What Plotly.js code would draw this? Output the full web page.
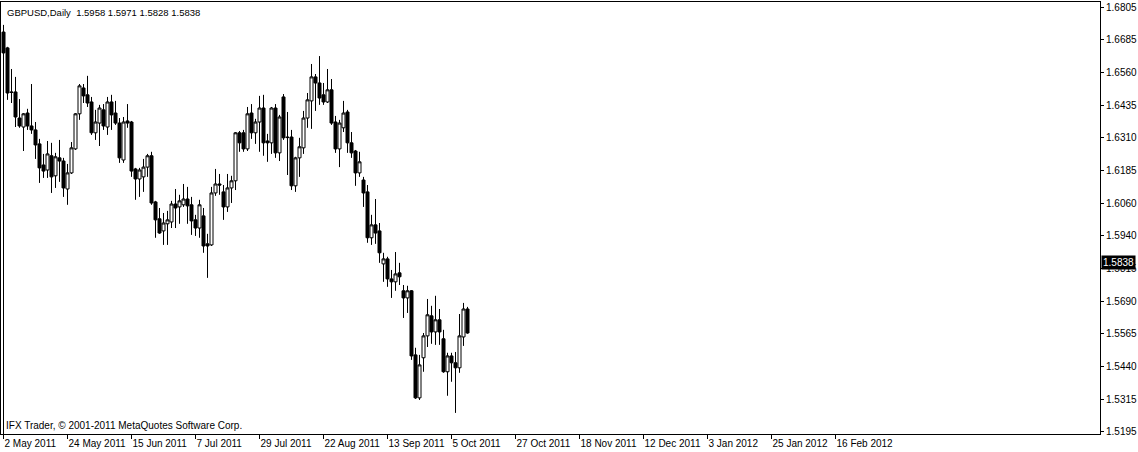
<!DOCTYPE html>
<html><head><meta charset="utf-8">
<script src="https://cdn.plot.ly/plotly-3.0.1.min.js"></script>
<style>html,body{margin:0;padding:0;background:#fff}#chart{width:1138px;height:452px}</style>
</head><body><div id="chart"></div>
<script>
const symbol = "GBPUSD,Daily";
const lastBar = [1.5958, 1.5971, 1.5828, 1.5838];
const copyright = "IFX Trader, \u00a9 2001-2011 MetaQuotes Software Corp.";

const open = [1.6711,1.6651,1.6484,1.6484,1.6385,1.6351,1.6404,1.6355,1.6340,1.6287,
1.6207,1.6188,1.6242,1.6166,1.6234,1.6222,1.6116,1.6177,1.6268,1.6401,
1.6499,1.6473,1.6446,1.6329,1.6366,1.6416,1.6351,1.6446,1.6404,1.6366,
1.6226,1.6374,1.6370,1.6192,1.6154,1.6162,1.6199,1.6242,1.6067,1.6003,
1.5957,1.5984,1.5991,1.6059,1.6048,1.6056,1.6078,1.6056,1.5999,1.5968,
1.6014,1.5908,1.5904,1.6101,1.6135,1.6105,1.6048,1.6120,1.6147,1.6329,
1.6329,1.6268,1.6404,1.6329,1.6370,1.6423,1.6298,1.6291,1.6423,1.6253,
1.6465,1.6313,1.6313,1.6128,1.6234,1.6272,1.6385,1.6450,1.6541,1.6518,
1.6473,1.6446,1.6492,1.6370,1.6268,1.6348,1.6408,1.6291,1.6260,1.6177,
1.6150,1.6105,1.5931,1.5980,1.5957,1.5832,1.5851,1.5775,1.5764,1.5798,
1.5730,1.5703,1.5730,1.5487,1.5324,1.5476,1.5559,1.5635,1.5574,1.5620,
1.5548,1.5423,1.5483,1.5457,1.5438,1.5555,1.5661];

const high = [1.6738,1.6655,1.6571,1.6541,1.6457,1.6404,1.6420,1.6514,1.6370,1.6306,
1.6249,1.6298,1.6291,1.6253,1.6302,1.6234,1.6211,1.6294,1.6404,1.6514,
1.6514,1.6545,1.6465,1.6416,1.6435,1.6438,1.6465,1.6473,1.6450,1.6385,
1.6389,1.6438,1.6374,1.6196,1.6196,1.6230,1.6249,1.6257,1.6071,1.6044,
1.6025,1.6033,1.6071,1.6116,1.6094,1.6135,1.6124,1.6086,1.6018,1.6075,
1.6044,1.5946,1.6124,1.6192,1.6173,1.6131,1.6173,1.6166,1.6332,1.6336,
1.6340,1.6427,1.6438,1.6382,1.6469,1.6473,1.6325,1.6427,1.6438,1.6397,
1.6476,1.6408,1.6340,1.6238,1.6310,1.6412,1.6480,1.6590,1.6552,1.6620,
1.6518,1.6571,1.6533,1.6393,1.6378,1.6450,1.6416,1.6332,1.6264,1.6257,
1.6162,1.6131,1.6018,1.6078,1.5987,1.5874,1.5859,1.5809,1.5877,1.5836,
1.5752,1.5749,1.5733,1.5514,1.5487,1.5570,1.5699,1.5673,1.5711,1.5661,
1.5582,1.5495,1.5495,1.5498,1.5642,1.5684,1.5669];

const low = [1.6613,1.6454,1.6442,1.6351,1.6348,1.6260,1.6340,1.6325,1.6230,1.6139,
1.6158,1.6158,1.6101,1.6120,1.6143,1.6086,1.6056,1.6173,1.6264,1.6378,
1.6442,1.6427,1.6321,1.6302,1.6279,1.6340,1.6321,1.6340,1.6359,1.6215,
1.6215,1.6348,1.6162,1.6075,1.6086,1.6105,1.6162,1.6056,1.5931,1.5946,
1.5904,1.5904,1.5968,1.5968,1.5984,1.6048,1.5984,1.5942,1.5938,1.5931,
1.5874,1.5779,1.5900,1.6090,1.6094,1.5999,1.6029,1.6063,1.6112,1.6257,
1.6257,1.6260,1.6306,1.6287,1.6257,1.6242,1.6219,1.6249,1.6234,1.6222,
1.6302,1.6169,1.6112,1.6105,1.6162,1.6249,1.6348,1.6344,1.6412,1.6435,
1.6435,1.6442,1.6359,1.6253,1.6199,1.6332,1.6253,1.6234,1.6128,1.6162,
1.6048,1.5912,1.5904,1.5908,1.5836,1.5764,1.5745,1.5703,1.5730,1.5752,
1.5627,1.5646,1.5468,1.5320,1.5316,1.5423,1.5517,1.5529,1.5525,1.5525,
1.5419,1.5332,1.5385,1.5267,1.5419,1.5521,1.5567];

const close = [1.6632,1.6480,1.6482,1.6389,1.6355,1.6401,1.6355,1.6340,1.6283,1.6196,
1.6184,1.6249,1.6162,1.6238,1.6222,1.6120,1.6177,1.6272,1.6401,1.6507,
1.6469,1.6442,1.6329,1.6370,1.6423,1.6355,1.6446,1.6397,1.6366,1.6234,
1.6370,1.6366,1.6184,1.6154,1.6188,1.6199,1.6242,1.6063,1.5999,1.5949,
1.5987,1.5999,1.6059,1.6044,1.6071,1.6078,1.6052,1.5995,1.5968,1.6056,
1.5900,1.5900,1.6101,1.6135,1.6131,1.6048,1.6120,1.6147,1.6329,1.6291,
1.6268,1.6401,1.6329,1.6370,1.6423,1.6291,1.6291,1.6423,1.6253,1.6389,
1.6310,1.6311,1.6128,1.6234,1.6276,1.6385,1.6454,1.6541,1.6518,1.6461,
1.6446,1.6492,1.6366,1.6268,1.6366,1.6404,1.6291,1.6253,1.6177,1.6219,
1.6101,1.5931,1.5980,1.5949,1.5874,1.5851,1.5775,1.5764,1.5794,1.5783,
1.5703,1.5730,1.5483,1.5324,1.5449,1.5559,1.5639,1.5574,1.5620,1.5574,
1.5423,1.5483,1.5457,1.5438,1.5559,1.5661,1.5570];

const xTickLabels = ["2 May 2011","24 May 2011","15 Jun 2011","7 Jul 2011","29 Jul 2011",
"22 Aug 2011","13 Sep 2011","5 Oct 2011","27 Oct 2011","18 Nov 2011","12 Dec 2011",
"3 Jan 2012","25 Jan 2012","16 Feb 2012"];
const barsPerDateLabel = 16;
const yTickLabels = ["1.6805","1.6685","1.6560","1.6435","1.6310","1.6185","1.6060",
"1.5940","1.5815","1.5690","1.5565","1.5440","1.5315","1.5195"];

const idx = open.map((_, i) => i);
const xTickVals = xTickLabels.map((_, i) => i * barsPerDateLabel);
const yTop = parseFloat(yTickLabels[0]);
const yBot = parseFloat(yTickLabels[yTickLabels.length - 1]);
const yStep = (yTop - yBot) / (yTickLabels.length - 1);
const yTickVals = yTickLabels.map((_, i) => yTop - i * yStep);
const yRange = [1.5187, 1.6825];
const FONT = {family: 'Liberation Sans, Arial, sans-serif', size: 10, color: 'black'};

const trace = {
  type: 'candlestick', x: idx, open: open, high: high, low: low, close: close,
  increasing: {line: {color: 'black', width: 1}, fillcolor: 'white'},
  decreasing: {line: {color: 'black', width: 1}, fillcolor: 'black'},
  whiskerwidth: 0, hoverinfo: 'none', showlegend: false
};

const layout = {
  width: 1138, height: 452,
  margin: {l: 1, r: 38, t: 2, b: 18, pad: 0},
  paper_bgcolor: 'white', plot_bgcolor: 'white',
  showlegend: false, boxgap: 0.25, boxgroupgap: 0,
  font: FONT,
  xaxis: {
    type: 'linear', range: [-0.625, 274.125], showgrid: false, zeroline: false,
    showline: true, mirror: true, linecolor: 'black', linewidth: 1,
    tickmode: 'array', tickvals: xTickVals, ticktext: xTickLabels,
    ticks: 'outside', ticklen: 4, tickcolor: 'black', tickwidth: 1,
    tickangle: 0, automargin: false,
    ticklabelposition: 'outside right', tickfont: FONT,
    rangeslider: {visible: false}, fixedrange: true
  },
  yaxis: {
    side: 'right', range: yRange, showgrid: false, zeroline: false,
    showline: true, mirror: true, linecolor: 'black', linewidth: 1,
    tickmode: 'array', tickvals: yTickVals, ticktext: yTickLabels,
    ticks: 'outside', ticklen: 3, tickcolor: 'black', tickfont: FONT, fixedrange: true
  },
  shapes: [{
    type: 'line', xref: 'x', yref: 'y', x0: idx[0], x1: idx[0],
    y0: high[0], y1: yRange[0], line: {color: 'black', width: 1}
  }],
  annotations: [
    {xref: 'paper', yref: 'paper', x: 0, y: 1, xanchor: 'left', yanchor: 'top',
     xshift: 4, yshift: -3, showarrow: false,
     font: {family: FONT.family, size: 9.5, color: 'black'},
     text: symbol + '\u00a0\u00a0' + lastBar.map(v => v.toFixed(4)).join(' ')},
    {xref: 'paper', yref: 'paper', x: 0, y: 0, xanchor: 'left', yanchor: 'bottom',
     xshift: 3, yshift: 1, showarrow: false, font: FONT, text: copyright},
    {xref: 'paper', yref: 'y', x: 1, y: lastBar[3], xanchor: 'left', yanchor: 'middle',
     xshift: 1, showarrow: false, bgcolor: 'black', borderpad: 1,
     font: {family: FONT.family, size: 10, color: 'white'}, text: lastBar[3].toFixed(4)}
  ]
};

Plotly.newPlot('chart', [trace], layout, {displayModeBar: false, staticPlot: true});
</script></body></html>
